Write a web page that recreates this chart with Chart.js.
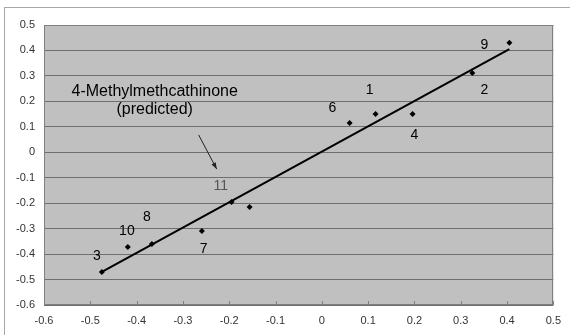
<!DOCTYPE html>
<html lang="en">
<head>
    <meta charset="UTF-8">
    <title>4-Methylmethcathinone regression</title>
    <script src="https://cdn.jsdelivr.net/npm/chart.js"></script>
    <style>
        body { margin: 0; background: #fff; }
        #wrap { width: 570px; height: 335px; }
    </style>
</head>
<body>
<div id="wrap"><canvas id="chart"></canvas></div>
<script>
    // observed points (x = experimental, y = predicted)
    const xs = [-0.475, -0.419, -0.367, -0.259, -0.195, -0.156, 0.06, 0.116, 0.196, 0.325, 0.405];
    const ys = [-0.47, -0.372, -0.36, -0.309, -0.195, -0.215, 0.115, 0.15, 0.15, 0.311, 0.43];

    // regression line end points
    const lineX = [-0.475, 0.405];
    const lineY = [-0.47, 0.405];

    // compound numbers and where they sit (data units)
    const numText = ['3', '10', '8', '7', '11', '6', '1', '4', '2', '9'];
    const numX = [-0.486, -0.421, -0.378, -0.255, -0.218, 0.023, 0.103, 0.2, 0.351, 0.351];
    const numY = [-0.408, -0.309, -0.254, -0.38, -0.133, 0.174, 0.245, 0.068, 0.245, 0.421];

    const noteLines = ['4-Methylmethcathinone', '(predicted)'];
    const noteX = -0.361;
    const noteY = [0.237, 0.166];
    const arrowFrom = [-0.266, 0.068];
    const arrowTo = [-0.227, -0.066];

    const xTicks = [-0.6, -0.5, -0.4, -0.3, -0.2, -0.1, 0, 0.1, 0.2, 0.3, 0.4, 0.5];

    const pts = xs.map((x, i) => ({ x, y: ys[i] }));
    const linePts = lineX.map((x, i) => ({ x, y: lineY[i] }));

    const fmt = v => {
        const r = Math.round(v * 10) / 10;
        return r === 0 ? '0' : String(r);
    };

    const decor = {
        id: 'decor',
        beforeDraw(chart) {
            const { ctx, chartArea: a } = chart;
            ctx.save();
            ctx.fillStyle = '#c0c0c0';
            ctx.fillRect(a.left, a.top, a.right - a.left, a.bottom - a.top);
            // outer frame
            ctx.strokeStyle = '#a8a8a8';
            ctx.lineWidth = 1;
            ctx.strokeRect(4.5, 7.5, 700, 400);
            ctx.restore();
        },
        afterDatasetsDraw(chart) {
            const { ctx, chartArea: a, scales: { x, y } } = chart;
            ctx.save();
            // plot border
            ctx.strokeStyle = '#808080';
            ctx.lineWidth = 1;
            ctx.strokeRect(Math.round(a.left) + 0.5, Math.round(a.top) + 0.5,
                Math.round(a.right - a.left) - 1, Math.round(a.bottom - a.top) - 1);
            // inward x ticks
            ctx.beginPath();
            xTicks.forEach(v => {
                const px = Math.round(x.getPixelForValue(v)) + 0.5;
                ctx.moveTo(px, a.bottom);
                ctx.lineTo(px, a.bottom - 4);
            });
            ctx.stroke();

            ctx.textAlign = 'center';
            ctx.textBaseline = 'middle';
            ctx.font = '14px "Liberation Sans", Arial, sans-serif';
            numText.forEach((t, i) => {
                ctx.fillStyle = t === '11' ? '#555' : '#000';
                ctx.fillText(t, x.getPixelForValue(numX[i]), y.getPixelForValue(numY[i]));
            });

            ctx.fillStyle = '#000';
            ctx.font = '16px "Liberation Sans", Arial, sans-serif';
            noteLines.forEach((t, i) => {
                ctx.fillText(t, x.getPixelForValue(noteX), y.getPixelForValue(noteY[i]));
            });

            // arrow
            const x0 = x.getPixelForValue(arrowFrom[0]), y0 = y.getPixelForValue(arrowFrom[1]);
            const x1 = x.getPixelForValue(arrowTo[0]), y1 = y.getPixelForValue(arrowTo[1]);
            const ang = Math.atan2(y1 - y0, x1 - x0);
            ctx.strokeStyle = '#222';
            ctx.fillStyle = '#222';
            ctx.lineWidth = 1;
            ctx.beginPath();
            ctx.moveTo(x0, y0);
            ctx.lineTo(x1, y1);
            ctx.stroke();
            ctx.beginPath();
            ctx.moveTo(x1, y1);
            ctx.lineTo(x1 - 7 * Math.cos(ang - 0.35), y1 - 7 * Math.sin(ang - 0.35));
            ctx.lineTo(x1 - 7 * Math.cos(ang + 0.35), y1 - 7 * Math.sin(ang + 0.35));
            ctx.closePath();
            ctx.fill();
            ctx.restore();
        }
    };

    new Chart(document.getElementById('chart'), {
        type: 'scatter',
        data: {
            datasets: [
                {
                    data: linePts,
                    showLine: true,
                    borderColor: '#000',
                    borderWidth: 2,
                    pointRadius: 0,
                    fill: false
                },
                {
                    data: pts,
                    pointStyle: 'rectRot',
                    pointRadius: 3,
                    backgroundColor: '#000',
                    borderColor: '#000',
                    borderWidth: 0
                }
            ]
        },
        options: {
            responsive: true,
            maintainAspectRatio: false,
            animation: false,
            layout: { padding: { top: 25, right: 16, left: 0, bottom: 0 } },
            plugins: { legend: { display: false }, tooltip: { enabled: false } },
            scales: {
                x: {
                    type: 'linear',
                    min: -0.6, max: 0.5,
                    afterBuildTicks: s => { s.ticks = xTicks.map(v => ({ value: v })); },
                    afterFit: s => { s.height = 30; },
                    grid: { display: false, drawTicks: false },
                    border: { display: false },
                    ticks: {
                        padding: 9,
                        color: '#333',
                        font: { family: '"Liberation Sans", Arial, sans-serif', size: 11 },
                        callback: v => fmt(v),
                        maxRotation: 0,
                        autoSkip: false
                    }
                },
                y: {
                    type: 'linear',
                    min: -0.6, max: 0.5,
                    afterBuildTicks: s => { s.ticks = xTicks.map(v => ({ value: v })); },
                    afterFit: s => { s.width = 44; },
                    grid: { color: '#6e6e6e', lineWidth: 1, drawTicks: false },
                    border: { display: false },
                    ticks: {
                        padding: 9,
                        color: '#333',
                        font: { family: '"Liberation Sans", Arial, sans-serif', size: 11 },
                        callback: v => fmt(v),
                        autoSkip: false
                    }
                }
            }
        },
        plugins: [decor]
    });
</script>
</body>
</html>
